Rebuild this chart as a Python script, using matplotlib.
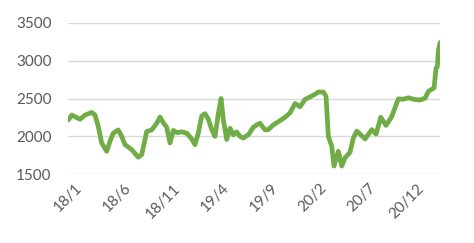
import matplotlib
matplotlib.use("Agg")
import matplotlib.pyplot as plt
import matplotlib.transforms as mtransforms

# months elapsed since Jan 2018
months = [
    0.0, 0.35, 1.2, 1.71, 2.4, 2.74, 3.07, 3.42, 3.93, 4.27, 4.61, 5.12,
    5.47, 5.81, 6.5, 7.17, 7.52, 8.03, 8.55, 9.06, 9.4, 9.73, 10.08, 10.42,
    10.76, 11.14, 11.65, 12.16, 12.67, 12.98, 13.32, 13.67, 14.0, 14.34,
    14.69, 15.03, 15.37, 15.65, 15.88, 16.23, 16.57, 16.91, 17.25, 17.59,
    17.93, 18.44, 18.95, 19.3, 19.64, 20.15, 20.49, 21.0, 21.69, 22.2,
    22.72, 23.23, 23.74, 24.25, 24.76, 25.28, 25.61, 26.13, 26.4, 26.64,
    26.99, 27.22, 27.66, 28.01, 28.35, 28.86, 29.2, 29.55, 29.89, 30.4,
    31.09, 31.53, 32.01, 32.55, 33.13, 33.81, 34.32, 34.84, 35.35, 36.03,
    36.55, 36.89, 37.47, 37.67, 37.81, 37.91, 38.08,
]
values = [
    2217, 2281, 2226, 2281, 2317, 2281, 2130, 1913, 1803, 1934, 2043, 2086,
    2000, 1891, 1825, 1725, 1760, 2064, 2086, 2174, 2255, 2180, 2120, 1913,
    2080, 2050, 2060, 2040, 1960, 1891, 2043, 2270, 2300, 2230,
    2090, 2000, 2300, 2500, 2220, 1960, 2108, 2021, 2060, 2000,
    1978, 2021, 2120, 2152, 2174, 2086, 2090, 2152, 2208, 2252,
    2312, 2434, 2390, 2487, 2521, 2556, 2586, 2586, 2530, 2000,
    1870, 1608, 1803, 1608, 1717, 1790, 1978, 2070, 2030, 1965,
    2090, 2030, 2252, 2145, 2260, 2495, 2490, 2510, 2490, 2480,
    2505, 2595, 2640, 2900, 2920, 3130, 3239,
]
tick_months = [0, 5, 10, 15, 20, 25, 30, 35]
tick_labels = ["18/1", "18/6", "18/11", "19/4", "19/9", "20/2", "20/7", "20/12"]
y_ticks = [1500, 2000, 2500, 3000, 3500]

text_color = "#595959"

fig = plt.figure(figsize=(4.74, 2.43), dpi=100)
ax = fig.add_axes([0.1441, 0.2827, 0.7842, 0.6239])

ax.plot(months, values, color="#70AD47", linewidth=3.4,
        solid_joinstyle="round", solid_capstyle="round", zorder=3)

ax.set_xlim(0, months[-1])
ax.set_ylim(1500, 3500)
ax.set_yticks(y_ticks)
ax.set_xticks(tick_months)
ax.set_xticklabels(tick_labels, rotation=45, ha="right", va="top",
                   rotation_mode="anchor")

# grid
ax.grid(axis="y", color="#D9D9D9", linewidth=1.0, zorder=0)
ax.grid(axis="x", visible=False)
for s in ax.spines.values():
    s.set_visible(False)

ax.tick_params(axis="both", length=0, labelcolor=text_color, labelsize=11)
ax.tick_params(axis="y", pad=12)
ax.tick_params(axis="x", pad=5)
for lbl in ax.get_yticklabels() + ax.get_xticklabels():
    lbl.set_family("Lato")

# nudge x labels to the right like the original
offset = mtransforms.ScaledTranslation(7 / 100, 0, fig.dpi_scale_trans)
for lbl in ax.get_xticklabels():
    lbl.set_transform(lbl.get_transform() + offset)

fig.savefig("out.png", dpi=100)
